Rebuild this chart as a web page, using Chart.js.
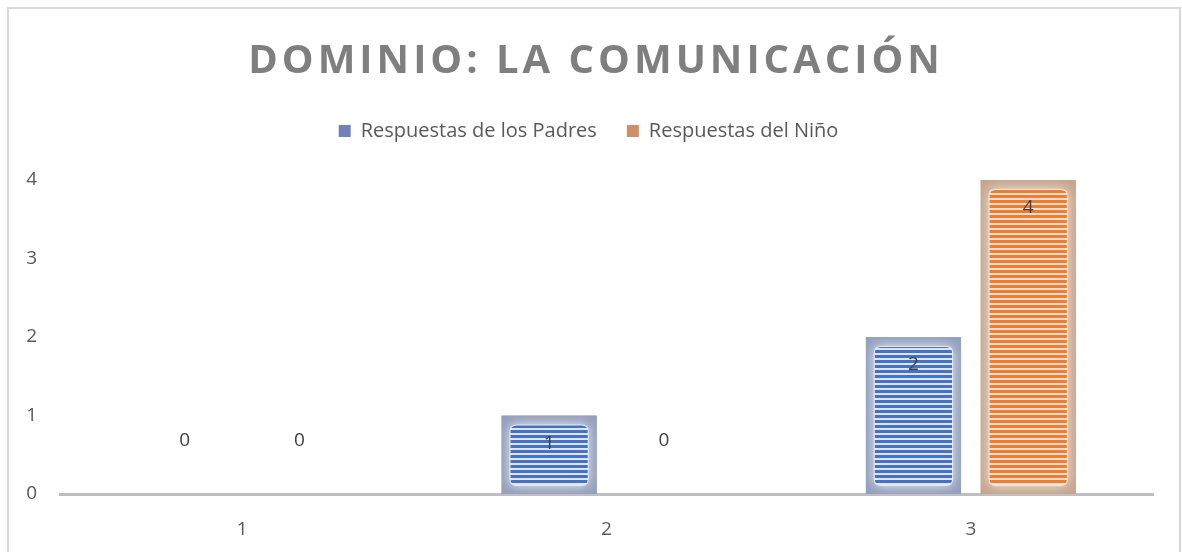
<!DOCTYPE html>
<html lang="es">
<head>
    <meta charset="UTF-8">
    <title>Dominio: La Comunicación</title>
    <script src="https://cdn.jsdelivr.net/npm/chart.js"></script>
    <style>
        body {
            margin: 0;
            padding: 0;
            background: #ffffff;
            width: 1182px;
            height: 552px;
            overflow: hidden;
        }
        canvas {
            display: block;
        }
    </style>
</head>
<body>
    <canvas id="chart" width="1182" height="552"></canvas>

    <script>
        // data
        const categories = ['1', '2', '3'];
        const padresValues = [0, 1, 2];
        const ninoValues = [0, 0, 4];
        const seriesNames = ['Respuestas de los Padres', 'Respuestas del Niño'];
        const yTicks = [0, 1, 2, 3, 4];
        const chartTitle = 'DOMINIO: LA COMUNICACIÓN';

        const FONT = "'Open Sans', sans-serif";

        // striped fill like the office pattern
        function stripes(color, light) {
            const c = document.createElement('canvas');
            c.width = 4;
            c.height = 5;
            const g = c.getContext('2d');
            g.fillStyle = light;
            g.fillRect(0, 0, 4, 5);
            g.fillStyle = color;
            g.fillRect(0, 0, 4, 3);
            return g.createPattern(c, 'repeat');
        }

        const looks = [
            { edge: '#939fbd', glow: '#e9ebf1', fill: stripes('#4472c4', '#dfe4ee'), legend: '#6f83b6' },
            { edge: '#c7a58c', glow: '#efe8e3', fill: stripes('#ed7d31', '#f6dccb'), legend: '#cf8f68' }
        ];

        function roundRect(ctx, x, y, w, h, r) {
            ctx.beginPath();
            ctx.moveTo(x + r, y);
            ctx.lineTo(x + w - r, y);
            ctx.quadraticCurveTo(x + w, y, x + w, y + r);
            ctx.lineTo(x + w, y + h - r);
            ctx.quadraticCurveTo(x + w, y + h, x + w - r, y + h);
            ctx.lineTo(x + r, y + h);
            ctx.quadraticCurveTo(x, y + h, x, y + h - r);
            ctx.lineTo(x, y + r);
            ctx.quadraticCurveTo(x, y, x + r, y);
            ctx.closePath();
        }

        // frame, title and the soft bevel of the bars
        const decor = {
            id: 'decor',
            beforeInit(chart) {
                const fit = chart.legend.fit;
                chart.legend.fit = function () {
                    fit.call(this);
                    this.height += 29;
                };
            },
            beforeDraw(chart) {
                const ctx = chart.ctx;
                ctx.save();
                ctx.strokeStyle = '#d9d9d9';
                ctx.lineWidth = 2;
                ctx.strokeRect(8, 8, 1172, 600);
                ctx.fillStyle = '#7f7f7f';
                ctx.font = 'bold 40px ' + FONT;
                ctx.letterSpacing = '4px';
                ctx.textAlign = 'center';
                ctx.textBaseline = 'alphabetic';
                ctx.fillText(chartTitle, 596, 73);
                ctx.restore();
            },
            afterDatasetsDraw(chart) {
                const ctx = chart.ctx;
                chart.data.datasets.forEach((ds, i) => {
                    const meta = chart.getDatasetMeta(i);
                    const look = looks[i];
                    meta.data.forEach((el, j) => {
                        const p = el.getProps(['x', 'y', 'base', 'width'], true);
                        const left = p.x - p.width / 2;
                        const top = Math.min(p.y, p.base);
                        const h = Math.abs(p.base - p.y);
                        ctx.save();
                        if (h > 1) {
                            ctx.beginPath();
                            ctx.rect(left, top, p.width, h);
                            ctx.clip();
                            ctx.fillStyle = look.edge;
                            ctx.fillRect(left, top, p.width, h);
                            ctx.shadowColor = look.glow;
                            ctx.shadowBlur = 12;
                            ctx.fillStyle = look.glow;
                            roundRect(ctx, left + 8, top + 9, p.width - 16, h - 17, 7);
                            ctx.fill();
                            ctx.shadowBlur = 0;
                            ctx.fillStyle = look.fill;
                            roundRect(ctx, left + 9, top + 10, p.width - 18, h - 19, 6);
                            ctx.fill();
                        }
                        ctx.restore();

                        // value label
                        const v = ds.data[j];
                        ctx.save();
                        ctx.fillStyle = '#404040';
                        ctx.font = '19px ' + FONT;
                        ctx.textAlign = 'center';
                        ctx.textBaseline = 'middle';
                        const ly = v > 0 ? top + 28 : p.base - 53;
                        ctx.fillText(String(v), p.x, ly);
                        ctx.restore();
                    });
                });
            }
        };

        new Chart(document.getElementById('chart'), {
            type: 'bar',
            data: {
                labels: categories,
                datasets: [
                    {
                        label: seriesNames[0],
                        data: padresValues,
                        backgroundColor: looks[0].edge,
                        borderWidth: 0
                    },
                    {
                        label: seriesNames[1],
                        data: ninoValues,
                        backgroundColor: looks[1].edge,
                        borderWidth: 0
                    }
                ]
            },
            options: {
                responsive: false,
                animation: false,
                devicePixelRatio: 1,
                categoryPercentage: 0.63,
                barPercentage: 0.83,
                layout: {
                    padding: { top: 91, right: 29, bottom: 10, left: 24 }
                },
                plugins: {
                    title: { display: false },
                    tooltip: { enabled: false },
                    legend: {
                        position: 'top',
                        labels: {
                            color: '#595959',
                            font: { family: FONT, size: 20 },
                            boxWidth: 12,
                            boxHeight: 12,
                            padding: 30,
                            generateLabels(chart) {
                                return chart.data.datasets.map((ds, i) => ({
                                    text: ds.label,
                                    fillStyle: looks[i].legend,
                                    strokeStyle: looks[i].legend,
                                    lineWidth: 0,
                                    fontColor: '#595959',
                                    datasetIndex: i
                                }));
                            }
                        }
                    }
                },
                scales: {
                    x: {
                        afterFit(scale) {
                            scale.height = 48;
                        },
                        grid: { display: false, drawTicks: false },
                        border: { display: true, color: '#bfbfbf', width: 3 },
                        ticks: {
                            color: '#595959',
                            font: { family: FONT, size: 19 },
                            padding: 24
                        }
                    },
                    y: {
                        min: 0,
                        max: 4,
                        afterBuildTicks(scale) {
                            scale.ticks = yTicks.map(v => ({ value: v }));
                        },
                        afterFit(scale) {
                            scale.width = 36;
                        },
                        grid: { display: false, drawTicks: false },
                        border: { display: false },
                        ticks: {
                            color: '#595959',
                            font: { family: FONT, size: 19 },
                            padding: 23
                        }
                    }
                }
            },
            plugins: [decor]
        });
    </script>
</body>
</html>
